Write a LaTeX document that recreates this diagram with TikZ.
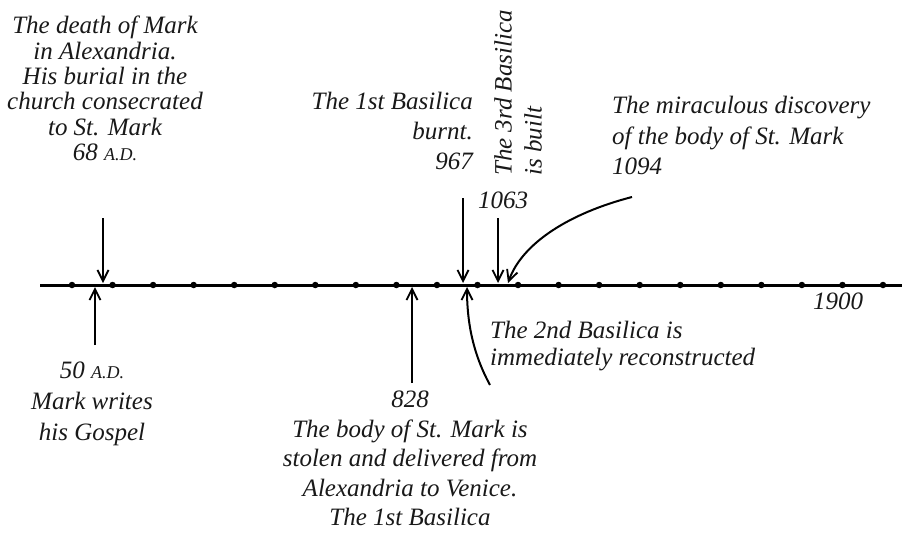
\documentclass[tikz,border=0pt]{standalone}
\usepackage{fontspec}
\setmainfont{Liberation Serif}
\usetikzlibrary{arrows.meta}
\newcommand\adsc{{\fontsize{18}{18}\selectfont A.D.}}
\begin{document}
\begin{tikzpicture}[x=1pt,y=-1pt,
  lbl/.style={inner sep=0pt, text=black!90, font=\itshape\fontsize{25}{#1}\selectfont},
  lbl/.default=30,
  arr/.style={line width=2pt, -{Straight Barb[length=11pt,width=11pt,line width=1.8pt]}},
  axisline/.style={line width=3pt},
  tickdot/.style={circle, fill=black, inner sep=0pt, minimum size=6.5pt}]
\useasboundingbox[fill=white] (0,0) rectangle (902,544);

% axis
\coordinate (axL) at (40,285);
\coordinate (axR) at (902,285);
\draw[axisline] (axL) -- (axR);
\foreach \k in {0,...,20} \node[tickdot] (t\k) at ({72+40.55*\k},285) {};

% labels
\node[lbl=25.3, align=center, anchor=north] (death) at (105,16)
  {The death of Mark\\in Alexandria.\\His burial in the\\church consecrated\\to St. Mark\\68 \adsc};
\node[lbl=31, align=center, anchor=north] (gospel) at (92,362)
  {50 \adsc\\Mark writes\\his Gospel};
\node[lbl=29.5, align=center, anchor=north] (stolen) at (410,391)
  {828\\The body of St. Mark is\\stolen and delivered from\\Alexandria to Venice.\\The 1st Basilica};
\node[lbl=30, align=right, anchor=north east] (burnt) at (473,92)
  {The 1st Basilica\\burnt.\\967};
\node[lbl=30.5, align=left, anchor=north west] (miracle) at (612,96)
  {The miraculous discovery\\of the body of St. Mark\\1094};
\node[lbl=30, align=left, anchor=north west, rotate=90] (third) at (494,176)
  {The 3rd Basilica\\is built};
\node[lbl, anchor=base] (y1063) at (503,208) {1063};
\node[lbl=26.5, align=left, anchor=north west] (second) at (490,321)
  {The 2nd Basilica is\\immediately reconstructed};
\node[lbl, anchor=base] (y1900) at (838,309) {1900};

% arrow end points
\coordinate (a68s) at (103,218);  \coordinate (a68e) at (103,283);
\coordinate (a50s) at (95,345);   \coordinate (a50e) at (95,287);
\coordinate (a828s) at (412,383); \coordinate (a828e) at (412,287);
\coordinate (a967s) at (463,198); \coordinate (a967e) at (463,283);
\coordinate (a1063s) at (498,218); \coordinate (a1063e) at (498,283);
\coordinate (a1094s) at (632,197); \coordinate (a1094e) at (508,283);
\coordinate (a2nds) at (490,385); \coordinate (a2nde) at (467,287);

\draw[arr] (a68s) -- (a68e);
\draw[arr] (a50s) -- (a50e);
\draw[arr] (a828s) -- (a828e);
\draw[arr] (a967s) -- (a967e);
\draw[arr] (a1063s) -- (a1063e);
\draw[arr] (a1094s) .. controls (570,213) and (522,243) .. (a1094e);
\draw[arr] (a2nds) .. controls (472,352) and (467,320) .. (a2nde);
\end{tikzpicture}
\end{document}
